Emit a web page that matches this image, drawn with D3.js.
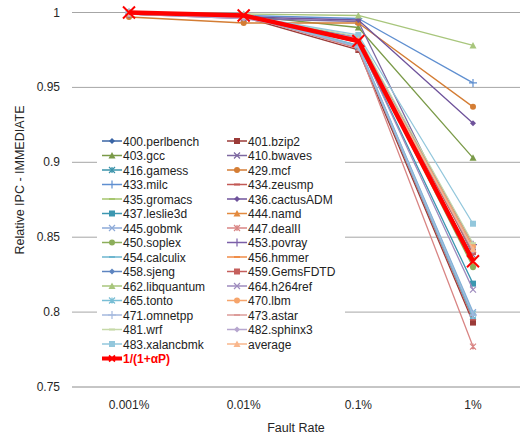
<!DOCTYPE html>
<html>
<head>
<meta charset="utf-8">
<script src="https://cdn.jsdelivr.net/npm/d3@7"></script>
<style>
  body { margin: 0; background: #fff; }
  svg { font-family: "Liberation Sans", Arial, sans-serif; }
</style>
</head>
<body>
<svg id="chart"></svg>
<script>
const faultRates = ["0.001%", "0.01%", "0.1%", "1%"];
const benchmarks = ["400.perlbench", "401.bzip2", "403.gcc", "410.bwaves", "416.gamess", "429.mcf",
    "433.milc", "434.zeusmp", "435.gromacs", "436.cactusADM", "437.leslie3d", "444.namd",
    "445.gobmk", "447.dealII", "450.soplex", "453.povray", "454.calculix", "456.hmmer",
    "458.sjeng", "459.GemsFDTD", "462.libquantum", "464.h264ref", "465.tonto", "470.lbm",
    "471.omnetpp", "473.astar", "481.wrf", "482.sphinx3", "483.xalancbmk", "average", "1/(1+αP)"];

// relative IPC per benchmark, one array per fault rate
const ipcRate0001 = [1.000, 0.999, 1.000, 0.999, 1.000, 0.997, 1.000, 1.000, 1.000, 0.999, 1.000, 0.999,
    1.000, 1.000, 1.000, 0.999, 1.000, 0.999, 1.000, 1.000, 1.000, 0.999, 1.000, 0.999,
    1.000, 1.000, 1.000, 0.999, 1.000, 1.000, 1.000];
const ipcRate001 = [0.998, 0.997, 0.998, 0.996, 0.998, 0.993, 0.998, 0.998, 0.998, 0.997, 0.998, 0.997,
    0.998, 0.998, 0.998, 0.997, 0.998, 0.998, 0.998, 0.998, 0.999, 0.997, 0.998, 0.997,
    0.998, 0.998, 0.998, 0.996, 0.998, 0.998, 0.998];
const ipcRate01 = [0.983, 0.975, 0.990, 0.994, 0.977, 0.993, 0.996, 0.977, 0.982, 0.995, 0.980, 0.981,
    0.978, 0.976, 0.981, 0.983, 0.977, 0.982, 0.983, 0.981, 0.998, 0.980, 0.978, 0.982,
    0.977, 0.981, 0.984, 0.983, 0.985, 0.982, 0.981];
const ipcRate1 = [0.842, 0.793, 0.903, 0.838, 0.797, 0.937, 0.953, 0.795, 0.840, 0.926, 0.819, 0.832,
    0.800, 0.777, 0.830, 0.845, 0.796, 0.836, 0.843, 0.840, 0.978, 0.815, 0.799, 0.844,
    0.798, 0.835, 0.846, 0.841, 0.859, 0.842, 0.834];

const yTicks = [0.75, 0.8, 0.85, 0.9, 0.95, 1];

const colors = ["#3a65a5", "#9b3b38", "#7a9a48", "#7d68a0", "#3a93aa", "#d47d34",
    "#5f8fd0", "#c35955", "#a6c66e", "#6f539b", "#3c97b0", "#e38a3e",
    "#8daad8", "#d98584", "#8cae5a", "#7b5fa8", "#6db6cf", "#f08d48",
    "#5d84c0", "#c55f5c", "#a8c67c", "#9e8bbe", "#79bed5", "#f6a46b",
    "#a4b8de", "#dc9c9a", "#c6d9a8", "#b6a6ce", "#93c7dc", "#f9b78d", "#ff0000"];
const markerCycle = ["diamond", "square", "triangle", "x", "star", "circle", "plus", "dash", "dash"];

const W = 525, H = 445;
const plot = { left: 72, right: 520, top: 12.5, bottom: 387 };

const svg = d3.select("#chart").attr("width", W).attr("height", H);

const x = d3.scalePoint().domain(faultRates).range([129, 473]);
const y = d3.scaleLinear().domain([0.75, 1]).range([plot.bottom, plot.top]);

// gridlines
svg.append("g")
    .selectAll("line")
    .data(yTicks)
    .enter().append("line")
    .attr("x1", plot.left).attr("x2", plot.right)
    .attr("y1", d => y(d)).attr("y2", d => y(d))
    .attr("stroke", d => d === 0.75 ? "#8c8c8c" : "#a6a6a6")
    .attr("stroke-width", 1);

// y tick labels
svg.append("g")
    .selectAll("text")
    .data(yTicks)
    .enter().append("text")
    .attr("x", 60).attr("y", d => y(d) + 4)
    .attr("text-anchor", "end")
    .attr("font-size", 12)
    .attr("fill", "#262626")
    .text(d => d);

// x tick labels
svg.append("g")
    .selectAll("text")
    .data(faultRates)
    .enter().append("text")
    .attr("x", d => x(d)).attr("y", 409)
    .attr("text-anchor", "middle")
    .attr("font-size", 12)
    .attr("fill", "#262626")
    .text(d => d);

svg.append("text")
    .attr("x", 296).attr("y", 432)
    .attr("text-anchor", "middle")
    .attr("font-size", 12.5)
    .attr("fill", "#262626")
    .text("Fault Rate");

svg.append("text")
    .attr("transform", "translate(24,180) rotate(-90)")
    .attr("text-anchor", "middle")
    .attr("font-size", 12.5)
    .attr("fill", "#262626")
    .text("Relative IPC - IMMEDIATE");

function drawMarker(g, type, color, isModel) {
    const s = isModel ? 6 : 3;
    if (type === "diamond") {
        g.append("path").attr("d", `M0,${-s}L${s},0L0,${s}L${-s},0Z`).attr("fill", color);
    } else if (type === "square") {
        g.append("rect").attr("x", -s).attr("y", -s).attr("width", 2 * s).attr("height", 2 * s).attr("fill", color);
    } else if (type === "triangle") {
        g.append("path").attr("d", `M0,${-s - 0.5}L${s + 0.5},${s}L${-s - 0.5},${s}Z`).attr("fill", color);
    } else if (type === "circle") {
        g.append("circle").attr("r", s).attr("fill", color);
    } else if (type === "x" || type === "star") {
        const k = isModel ? 6 : 3;
        g.append("path").attr("d", `M${-k},${-k}L${k},${k}M${-k},${k}L${k},${-k}` + (type === "star" ? `M0,${-k}L0,${k}` : ""))
            .attr("stroke", color).attr("stroke-width", isModel ? 2 : 1.2).attr("fill", "none");
    } else if (type === "plus") {
        g.append("path").attr("d", `M${-s - 1},0L${s + 1},0M0,${-s - 1}L0,${s + 1}`)
            .attr("stroke", color).attr("stroke-width", 1.2);
    } else if (type === "dash") {
        g.append("path").attr("d", `M${-s},0L${s},0`).attr("stroke", color).attr("stroke-width", 2);
    }
}

const series = benchmarks.map((name, i) => ({
    name: name,
    color: colors[i],
    marker: i === benchmarks.length - 1 ? "x" : markerCycle[i % markerCycle.length],
    isModel: i === benchmarks.length - 1,
    values: [ipcRate0001[i], ipcRate001[i], ipcRate01[i], ipcRate1[i]].map((v, j) => ({ rate: faultRates[j], value: v }))
}));

const line = d3.line()
    .x(d => x(d.rate))
    .y(d => y(d.value));

// white legend box hides the gridlines behind it
svg.append("rect")
    .attr("x", 97).attr("y", 133)
    .attr("width", 248).attr("height", 232)
    .attr("fill", "#fff");

series.forEach(s => {
    svg.append("path")
        .datum(s.values)
        .attr("d", line)
        .attr("fill", "none")
        .attr("stroke", s.color)
        .attr("stroke-width", s.isModel ? 4.5 : 1.3)
        .attr("stroke-linejoin", "round");

    s.values.forEach(d => {
        const g = svg.append("g").attr("transform", `translate(${x(d.rate)},${y(d.value)})`);
        drawMarker(g, s.marker, s.color, s.isModel);
    });
});

// legend entries: two columns, row-major
const legend = svg.append("g");
series.forEach((s, i) => {
    let col, row;
    if (s.isModel) { col = 0; row = 15; }
    else { col = i % 2; row = Math.floor(i / 2); }
    const lx = col === 0 ? 102 : 227;
    const ly = 141 + row * 14.5;
    const rowG = legend.append("g").attr("transform", `translate(${lx},${ly})`);
    rowG.append("line")
        .attr("x1", 0).attr("x2", 20)
        .attr("stroke", s.color)
        .attr("stroke-width", s.isModel ? 4 : 1.5);
    const mg = rowG.append("g").attr("transform", "translate(10,0)");
    drawMarker(mg, s.marker, s.color, false);
    if (s.isModel) {
        mg.selectAll("*").attr("stroke-width", 1.8);
    }
    rowG.append("text")
        .attr("x", 21).attr("y", 4.5)
        .attr("font-size", 12)
        .attr("fill", s.isModel ? "#ff0000" : "#222")
        .attr("font-weight", s.isModel ? "bold" : "normal")
        .text(s.name);
});
</script>
</body>
</html>
